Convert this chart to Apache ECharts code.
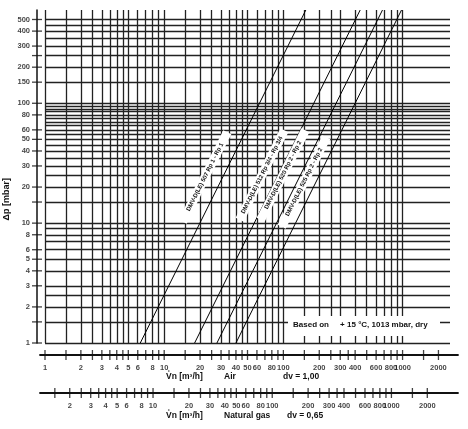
<![CDATA[<!DOCTYPE html><html><head><meta charset="utf-8"><script src="https://cdn.jsdelivr.net/npm/echarts@6/dist/echarts.min.js"></script>
<style>html,body{margin:0;background:#fff}#c{width:468px;height:429px}</style></head><body><div id="c"></div><script>
const startFlows=[6.3,18,27.7,40];
const lineNames=["DMV-D(LE) 507 Rp 1 - Rp 1","DMV-D(LE) 512 Rp 3/4 - Rp 3/4","DMV-D(LE) 520 Rp 2 - Rp 2","DMV-D(LE) 525 Rp 2 - Rp 2"];
const hGrid=[1,1.5,2,2.5,3,4,5,6,7,8,9,10,15,20,25,30,35,40,45,50,55,60,65,70,75,80,85,90,95,100,150,200,250,300,350,400,450,500];
const vGrid=[1,1.5,2,2.5,3,3.5,4,4.5,5,6,7,8,9,10,15,20,25,30,35,40,45,50,60,70,80,90,100,150,200,250,300,400,500,600,700,800,900,1000];
const yTicks=[1,1.5,2,3,4,5,6,8,10,15,20,30,40,50,60,80,100,150,200,250,300,400,500];
const yLabels=[1,2,3,4,5,6,8,10,20,30,40,50,60,80,100,150,200,300,400,500];
const airTicks=[1,1.5,2,2.5,3,3.5,4,4.5,5,6,7,8,9,10,15,20,25,30,35,40,45,50,60,70,80,90,100,150,200,250,300,350,400,500,600,700,800,900,1000,1500,2000];
const airLabels=[1,2,3,4,5,6,8,10,20,30,40,50,60,80,100,200,300,400,600,800,1000,2000];
const gasTicks=[1.5,2,2.5,3,3.5,4,4.5,5,6,7,8,9,10,15,20,25,30,35,40,45,50,60,70,80,90,100,150,200,250,300,350,400,500,600,700,800,900,1000,1500,2000];
const gasLabels=[2,3,4,5,6,8,10,20,30,40,50,60,80,100,200,300,400,600,800,1000,2000];
const dpMax=600, qMax=2500, gasFactor=Math.sqrt(1/0.65);
const F='Liberation Sans';
const ch=echarts.init(document.getElementById('c'));
const L=45,R=18;
const tickSeries=(xi,yi,ticks,labels,horiz)=>({type:'scatter',xAxisIndex:xi,yAxisIndex:yi,silent:true,symbol:'rect',
 symbolSize:horiz?[10,1.3]:[1.3,10],itemStyle:{color:'#111'},
 data:ticks.map(v=>({value:horiz?[0,v]:[v,0],label:{show:labels.includes(v)}})),
 label:{position:horiz?'left':'bottom',distance:horiz?2:4,fontFamily:F,fontWeight:'bold',fontSize:7.5,color:'#111',formatter:p=>horiz?p.value[1]:p.value[0]}});
const mk=(arr,axis)=>arr.map(v=>({[axis]:v}));
const series=[
 {type:'line',xAxisIndex:0,yAxisIndex:0,data:[],silent:true,markLine:{silent:true,symbol:'none',animation:false,label:{show:false},
   lineStyle:{color:'#222',width:1.3,type:'solid'},data:[...mk(hGrid,'yAxis'),...mk(vGrid,'xAxis')]}}
];
startFlows.forEach((q,i)=>series.push({type:'line',xAxisIndex:0,yAxisIndex:0,name:lineNames[i],symbol:'none',silent:true,z:5,
 lineStyle:{color:'#000',width:1},data:[[q,1],[q*Math.sqrt(dpMax),dpMax]]}));
series.push(tickSeries(1,1,airTicks,airLabels,false));
series.push(tickSeries(2,2,gasTicks,gasLabels,false));
series.push(tickSeries(3,3,yTicks,yLabels,true));
const centers=[[205,177],[262,175],[283,175],[304,182]];
const graphic=[
 {type:'text',left:2,top:178,rotation:Math.PI/2,z:100,style:{text:'Δp [mbar]',font:'bold 9px '+F,fill:'#111'}},
 {type:'rect',z:100,shape:{x:288,y:316,width:152,height:20},style:{fill:'#fff'}},
 {type:'text',z:101,x:293,y:321,style:{text:'Based on     + 15 °C, 1013 mbar, dry',font:'bold 8px '+F,fill:'#111'}},
 {type:'text',x:166,y:372,style:{text:'V̊n [m³/h]',font:'bold 8.5px '+F,fill:'#111'}},
 {type:'text',x:224,y:372,style:{text:'Air',font:'bold 8.5px '+F,fill:'#111'}},
 {type:'text',x:283,y:372,style:{text:'dv = 1,00',font:'bold 8.5px '+F,fill:'#111'}},
 {type:'text',x:166,y:411,style:{text:'V̊n [m³/h]',font:'bold 8.5px '+F,fill:'#111'}},
 {type:'text',x:224,y:411,style:{text:'Natural gas',font:'bold 8.5px '+F,fill:'#111'}},
 {type:'text',x:287,y:411,style:{text:'dv = 0,65',font:'bold 8.5px '+F,fill:'#111'}}
];
centers.forEach((c,i)=>graphic.push({type:'group',x:c[0],y:c[1],rotation:Math.atan(2),z:100,children:[
 {type:'rect',z:100,shape:{x:-50,y:-4.5,width:100,height:9},style:{fill:'#fff'}},
 {type:'text',z:101,style:{text:lineNames[i],x:0,y:0,font:'bold 6px '+F,fill:'#111',align:'center',verticalAlign:'middle'}}]}));
const hid={show:false};
const w=468-L-R, ppd=w/Math.log10(qMax);
const aMin=Math.pow(10,-5/ppd), aMax=qMax*Math.pow(10,8/ppd);
ch.setOption({animation:false,
 grid:[{left:L,right:R,top:10,bottom:86},{left:L-5,right:R-8,top:355,height:0},{left:L-5,right:R-8,top:393,height:0},{left:37,width:1,top:10,bottom:86}],
 xAxis:[
  {type:'log',min:1,max:qMax,gridIndex:0,axisLine:hid,axisTick:hid,axisLabel:hid,splitLine:hid},
  {type:'log',min:aMin,max:aMax,gridIndex:1,axisLine:{lineStyle:{color:'#111',width:1.8}},axisTick:hid,axisLabel:hid,splitLine:hid},
  {type:'log',min:aMin*gasFactor,max:aMax*gasFactor,gridIndex:2,axisLine:{lineStyle:{color:'#111',width:1.8}},axisTick:hid,axisLabel:hid,splitLine:hid},
  {type:'value',min:0,max:1,gridIndex:3,show:false}],
 yAxis:[
  {type:'log',min:1,max:dpMax,gridIndex:0,axisLine:hid,axisTick:hid,axisLabel:hid,splitLine:hid},
  {type:'value',min:-1,max:1,gridIndex:1,show:false},
  {type:'value',min:-1,max:1,gridIndex:2,show:false},
  {type:'log',min:1,max:dpMax,gridIndex:3,axisLine:{show:true,onZero:false,lineStyle:{color:'#111',width:1.5}},axisTick:hid,axisLabel:hid,splitLine:hid}],
 series,graphic});
</script></body></html>]]>
